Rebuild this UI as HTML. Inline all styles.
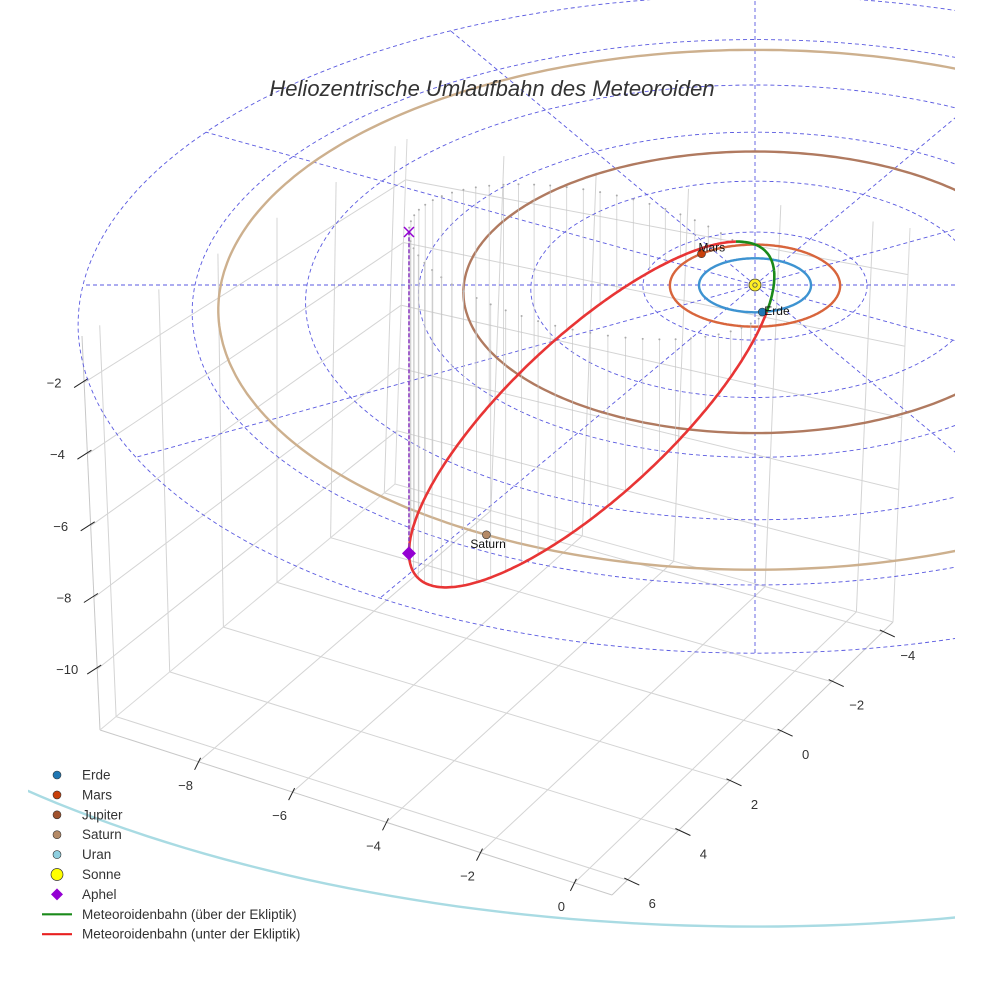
<!DOCTYPE html>
<html><head><meta charset="utf-8">
<style>
html,body{margin:0;padding:0;background:#fff;}
svg{display:block;font-family:"Liberation Sans",sans-serif;}
</style></head>
<body>
<svg id="chart" width="984" height="984" viewBox="0 0 984 984" xmlns="http://www.w3.org/2000/svg">
<defs><clipPath id="clipPlot"><rect x="28" y="0" width="927" height="984"/></clipPath></defs>
<rect width="984" height="984" fill="#fff"/>
<g id="box"></g>
<g id="plot" clip-path="url(#clipPlot)"></g>
<text x="492" y="96" text-anchor="middle" font-size="22" font-style="italic" fill="#333">Heliozentrische Umlaufbahn des Meteoroiden</text>
<g id="legend"></g>
</svg>
<script>
const orbitNames=['Erde','Mars','Jupiter','Saturn','Uran'];
const orbitRadii=[1.0,1.52,5.2,9.54,19.2];
const planetAnglesDeg=[82.6,-129.5,20,117.4,-30];
const gridRings=[2,4,6,8,10,12];
const gridSpokesDeg=[0,30,60,90,120,150,180,210,240,270,300,330];
const meteorSemiMajor=5.93;
const meteorEcc=0.898;
const meteorSemiMinor=2.8;
const perihelionDir=[0.56,0.178,0.809];
const minorDir=[0.07,0.974,-0.228];
const xTicks=[-8,-6,-4,-2,0];
const yTicks=[-4,-2,0,2,4,6];
const zTicks=[-2,-4,-6,-8,-10];
const xRange=[-10.1,0.8], yRange=[-4.4,6.6], zRange=[-11.7,-0.7];

const orbitColors=['#3d93d1','#d8653c','#b07a60','#cdb08e','#a9dbe3'];
const planetColors=['#1f77b4','#c8400a','#a0522d','#b58a66','#8ecfe0'];
const labelOffsets={Erde:[2,3],Mars:[-3,-2],Saturn:[-16,13]};

const NS='http://www.w3.org/2000/svg';
function mk(tag,attrs,parent){const e=document.createElementNS(NS,tag);for(const k in attrs)e.setAttribute(k,attrs[k]);parent.appendChild(e);return e;}
function proj(X,Y,Z){const g=1/(1-Y/100);return [755+56*X*g,285+(27*Y-36*Z)*g];}

const floorC={a:[395,484],b:[893,622],c:[612,895],d:[100,730]};
const topC={a:[407,139],b:[910,228],c:[600,470],d:[82,336]};
function bil(C,u,v){const r=[];for(let i=0;i<2;i++){r.push(C.a[i]*(1-u)*(1-v)+C.b[i]*u*(1-v)+C.c[i]*u*v+C.d[i]*(1-u)*v);}return r;}
function boxP(x,y,z){const u=(x-xRange[0])/(xRange[1]-xRange[0]),v=(y-yRange[0])/(yRange[1]-yRange[0]),w=(z-zRange[0])/(zRange[1]-zRange[0]);const f=bil(floorC,u,v),t=bil(topC,u,v);return [f[0]*(1-w)+t[0]*w,f[1]*(1-w)+t[1]*w];}
const box=document.getElementById('box');
function bl(p,q,name,col,w){const e=mk('line',{x1:p[0].toFixed(1),y1:p[1].toFixed(1),x2:q[0].toFixed(1),y2:q[1].toFixed(1),stroke:col||'#d4d4d4','stroke-width':w||1},box);

}
const X0=xRange[0],X1=xRange[1],Y0=yRange[0],Y1=yRange[1],Z0=zRange[0],Z1=zRange[1];
xTicks.forEach(x=>{bl(boxP(x,Y0,Z0),boxP(x,Y1,Z0),'floor-grid-x');bl(boxP(x,Y0,Z0),boxP(x,Y0,Z1),'wall-grid-x');});
yTicks.forEach(y=>{bl(boxP(X0,y,Z0),boxP(X1,y,Z0),'floor-grid-y');bl(boxP(X0,y,Z0),boxP(X0,y,Z1),'wall-grid-y');});
zTicks.forEach(z=>{bl(boxP(X0,Y1,z),boxP(X0,Y0,z),'wall-grid-z');bl(boxP(X0,Y0,z),boxP(X1,Y0,z),'wall-grid-z');});
bl(boxP(X0,Y1,Z0),boxP(X1,Y1,Z0),'x-axis-line','#c8c8c8');
bl(boxP(X1,Y1,Z0),boxP(X1,Y0,Z0),'y-axis-line','#c8c8c8');
bl(boxP(X0,Y1,Z0),boxP(X0,Y1,Z1),'z-axis-line','#c8c8c8');
bl(boxP(X0,Y0,Z0),boxP(X0,Y0,Z1),'back-edge','#d8d8d8');
bl(boxP(X1,Y0,Z0),boxP(X1,Y0,Z1),'right-edge','#d8d8d8');
bl(boxP(X0,Y0,Z0),boxP(X0,Y1,Z0),'floor-edge','#d8d8d8');
bl(boxP(X0,Y0,Z0),boxP(X1,Y0,Z0),'floor-edge','#d8d8d8');
function tl(x,y,s,name){const e=mk('text',{x:x.toFixed(1),y:y.toFixed(1),'font-size':13,fill:'#333','text-anchor':'middle'},box);e.textContent=s;

}
const fmt=v=>v<0?'\u2212'+Math.abs(v):String(v);
xTicks.forEach(x=>{const p=boxP(x,Y1,Z0);bl([p[0]+2,p[1]-4],[p[0]-4,p[1]+8],'x-tick','#222');tl(p[0]-13,p[1]+28,fmt(x),'x-tick-label');});
yTicks.forEach(y=>{const p=boxP(X1,y,Z0);bl([p[0]-3,p[1]-2],[p[0]+12,p[1]+5],'y-tick','#222');tl(p[0]+25,p[1]+28,fmt(y),'y-tick-label');});
zTicks.forEach(z=>{const p=boxP(X0,Y1,z);bl([p[0]+4,p[1]-4],[p[0]-10,p[1]+5],'z-tick','#222');tl(p[0]-30,p[1]+5,fmt(z),'z-tick-label');});

const plot=document.getElementById('plot');
function pathFrom(pts){return pts.map((p,i)=>(i?'L':'M')+p[0].toFixed(1)+' '+p[1].toFixed(1)).join('');}
function ringPts(r){const pts=[];for(let i=0;i<=360;i++){const t=i*Math.PI/180;pts.push(proj(r*Math.cos(t),r*Math.sin(t),0));}return pts;}
gridRings.forEach(r=>{const e=mk('path',{d:pathFrom(ringPts(r)),fill:'none',stroke:'#5a5ae0','stroke-width':0.9,'stroke-dasharray':'4 3'},plot);

});
gridSpokesDeg.forEach(a=>{const t=a*Math.PI/180,R=gridRings[gridRings.length-1];const p=proj(0,0,0),q=proj(R*Math.cos(t),R*Math.sin(t),0);
const e=mk('line',{x1:p[0],y1:p[1],x2:q[0].toFixed(1),y2:q[1].toFixed(1),stroke:'#5a5ae0','stroke-width':0.9,'stroke-dasharray':'4 3'},plot);

});
orbitRadii.forEach((r,i)=>{const e=mk('path',{d:pathFrom(ringPts(r)),fill:'none',stroke:orbitColors[i],'stroke-width':2.4},plot);

});
function mpos(E){const c=meteorSemiMajor*(Math.cos(E)-meteorEcc),s=meteorSemiMinor*Math.sin(E);return [0,1,2].map(k=>c*perihelionDir[k]+s*minorDir[k]);}
const N=400,samples=[];for(let i=0;i<=N;i++)samples.push(mpos(i/N*2*Math.PI));
samples.forEach((p,i)=>{if(i%6!==0||p[2]>=0)return;const a=proj(p[0],p[1],p[2]),c=proj(p[0],p[1],0);
const e=mk('line',{x1:a[0].toFixed(1),y1:a[1].toFixed(1),x2:c[0].toFixed(1),y2:c[1].toFixed(1),stroke:'#c4c4c4','stroke-width':0.8,opacity:0.8},plot);


const d=mk('circle',{cx:c[0].toFixed(1),cy:c[1].toFixed(1),r:1,fill:'#aaa'},plot);

});
let runs=[],cur=null;
samples.forEach(p=>{const above=p[2]>=0;const sp=proj(p[0],p[1],p[2]);if(!cur||cur.above!==above){if(cur)cur.pts.push(sp);cur={above,pts:[]};runs.push(cur);}cur.pts.push(sp);});
runs.forEach(r=>{const e=mk('path',{d:pathFrom(r.pts),fill:'none',stroke:r.above?'#1a8a1a':'#e83535','stroke-width':2.6,'stroke-linejoin':'round'},plot);

});
const A=mpos(Math.PI),ap=proj(A[0],A[1],A[2]),ax=proj(A[0],A[1],0);
let e=mk('line',{x1:ap[0].toFixed(1),y1:ap[1].toFixed(1),x2:ax[0].toFixed(1),y2:ax[1].toFixed(1),stroke:'#8a3cc0','stroke-width':1.6,'stroke-dasharray':'4 2'},plot);


e=mk('path',{d:`M${ax[0]-5} ${ax[1]-5}L${ax[0]+5} ${ax[1]+5}M${ax[0]+5} ${ax[1]-5}L${ax[0]-5} ${ax[1]+5}`,stroke:'#9400d3','stroke-width':1.5},plot);


e=mk('path',{d:`M${ap[0]} ${ap[1]-7}L${ap[0]+7} ${ap[1]}L${ap[0]} ${ap[1]+7}L${ap[0]-7} ${ap[1]}Z`,fill:'#9400d3'},plot);


orbitNames.forEach((n,i)=>{const t=planetAnglesDeg[i]*Math.PI/180,r=orbitRadii[i];const p=proj(r*Math.cos(t),r*Math.sin(t),0);
const c=mk('circle',{cx:p[0].toFixed(1),cy:p[1].toFixed(1),r:4,fill:planetColors[i],stroke:'#333','stroke-width':0.6},plot);


if(labelOffsets[n]){const l=mk('text',{x:(p[0]+labelOffsets[n][0]).toFixed(1),y:(p[1]+labelOffsets[n][1]).toFixed(1),'font-size':12,fill:'#111'},plot);l.textContent=n;

}});
const s0=proj(0,0,0);
e=mk('circle',{cx:s0[0],cy:s0[1],r:6,fill:'#ffee22',stroke:'#333','stroke-width':0.8},plot);


e=mk('circle',{cx:s0[0],cy:s0[1],r:2.2,fill:'none',stroke:'#555','stroke-width':0.8},plot);



const legendLabels=['Erde','Mars','Jupiter','Saturn','Uran','Sonne','Aphel','Meteoroidenbahn (über der Ekliptik)','Meteoroidenbahn (unter der Ekliptik)'];
const leg=document.getElementById('legend');
legendLabels.forEach((lab,i)=>{const y=775+i*19.9;let m;
if(i<5)m=mk('circle',{cx:57,cy:y,r:4,fill:planetColors[i],stroke:'#333','stroke-width':0.6},leg);
else if(i===5)m=mk('circle',{cx:57,cy:y,r:6,fill:'#ffff00',stroke:'#333','stroke-width':0.7},leg);
else if(i===6)m=mk('path',{d:`M57 ${y-6}L63 ${y}L57 ${y+6}L51 ${y}Z`,fill:'#9400d3'},leg);
else m=mk('line',{x1:42,y1:y,x2:72,y2:y,stroke:i===7?'#1a8a1a':'#e82020','stroke-width':2.2},leg);


const t=mk('text',{x:82,y:y+4.5,'font-size':13.5,fill:'#333'},leg);t.textContent=lab;

});
</script>
</body></html>
